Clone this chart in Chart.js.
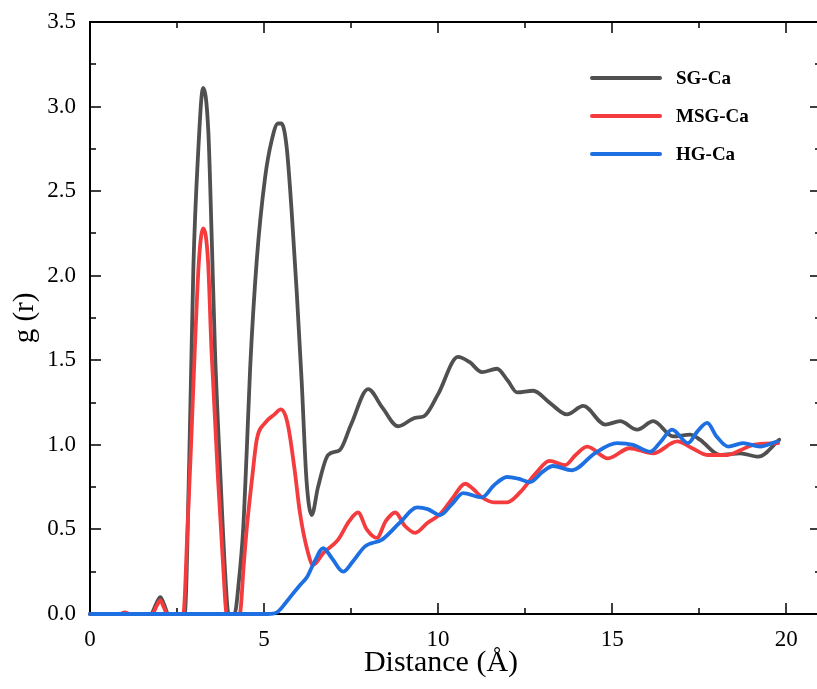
<!DOCTYPE html>
<html>
<head>
<meta charset="utf-8">
<script src="https://cdn.jsdelivr.net/npm/chart.js@4/dist/chart.umd.min.js"></script>
<style>
  html, body { margin: 0; padding: 0; overflow: hidden; background: #fff; }
  #wrap { position: relative; width: 817px; height: 689px; overflow: hidden; }
  #legend { position: absolute; left: 590px; top: 59px; font: bold 19px "Liberation Serif", "Times New Roman", serif; }
  #legend div { display: flex; align-items: center; height: 38px; }
  #legend span.ln { display: inline-block; width: 72px; height: 4px; border-radius: 2px; margin-right: 14px; }
</style>
</head>
<body>
<div id="wrap">
  <canvas id="rdf" width="832" height="689"></canvas>
  <div id="legend"></div>
</div>
<script>
// radial distribution functions, r in Å
const sgR = [0, 1.75, 1.9, 2.02, 2.12, 2.25, 2.72, 2.85, 2.97, 3.1, 3.25, 3.4, 3.5, 3.59, 3.75, 3.88, 3.98, 4.15, 4.28, 4.4, 4.5, 4.6, 4.79, 5.03, 5.22, 5.4, 5.5, 5.65, 5.79, 5.94, 6.08, 6.22, 6.37, 6.55, 6.84, 7.18, 7.5, 7.99, 8.4, 8.85, 9.34, 9.6, 10.0, 10.57, 10.9, 11.26, 11.69, 12.0, 12.27, 12.73, 13.2, 13.7, 14.17, 14.8, 15.23, 15.72, 16.18, 16.75, 17.24, 17.53, 18.1, 18.68, 19.2, 19.8];
const sgG = [0, 0, 0.06, 0.1, 0.06, 0, 0, 0.9, 2.05, 2.7, 3.11, 2.85, 2.2, 1.56, 0.8, 0.25, 0, 0, 0.2, 0.5, 0.95, 1.45, 2.09, 2.58, 2.8, 2.9, 2.9, 2.76, 2.39, 1.9, 1.38, 0.79, 0.585, 0.75, 0.94, 0.97, 1.12, 1.33, 1.22, 1.11, 1.16, 1.17, 1.3, 1.52, 1.49, 1.43, 1.45, 1.38, 1.31, 1.32, 1.25, 1.18, 1.23, 1.12, 1.14, 1.09, 1.14, 1.05, 1.06, 1.03, 0.94, 0.95, 0.93, 1.03];

const msgR = [0, 0.85, 1.0, 1.15, 1.78, 1.92, 2.02, 2.12, 2.22, 2.68, 2.8, 2.9, 3.01, 3.13, 3.25, 3.39, 3.49, 3.68, 3.82, 3.93, 4.3, 4.42, 4.5, 4.65, 4.79, 5.03, 5.3, 5.48, 5.62, 5.72, 5.88, 6.03, 6.24, 6.41, 6.7, 7.13, 7.45, 7.7, 7.95, 8.24, 8.5, 8.77, 9.05, 9.34, 9.7, 10.06, 10.4, 10.78, 11.0, 11.26, 11.6, 11.98, 12.36, 12.8, 13.2, 13.65, 13.95, 14.28, 14.88, 15.5, 16.18, 16.87, 17.3, 17.73, 18.3, 18.7, 19.05, 19.77];
const msgG = [0, 0, 0.01, 0, 0, 0.05, 0.08, 0.04, 0, 0, 0.5, 0.98, 1.56, 2.09, 2.28, 2.09, 1.56, 0.79, 0.3, 0, 0, 0.3, 0.5, 0.79, 1.03, 1.13, 1.18, 1.21, 1.17, 1.08, 0.85, 0.6, 0.38, 0.29, 0.36, 0.44, 0.55, 0.6, 0.5, 0.45, 0.55, 0.6, 0.52, 0.48, 0.54, 0.59, 0.68, 0.77, 0.74, 0.69, 0.66, 0.66, 0.72, 0.83, 0.905, 0.88, 0.94, 0.99, 0.92, 0.98, 0.95, 1.02, 0.98, 0.94, 0.94, 0.97, 1.0, 1.01];

const hgR = [0, 5.1, 5.37, 5.6, 5.75, 6.03, 6.24, 6.45, 6.7, 6.95, 7.27, 7.55, 7.9, 8.39, 8.9, 9.4, 9.7, 10.06, 10.4, 10.72, 11.26, 11.6, 11.98, 12.3, 12.64, 13.0, 13.3, 13.85, 14.5, 15.14, 15.6, 16.1, 16.4, 16.72, 17.18, 17.45, 17.73, 18.0, 18.33, 18.76, 19.25, 19.74];
const hgG = [0, 0, 0.01, 0.06, 0.1, 0.17, 0.22, 0.31, 0.39, 0.33, 0.25, 0.31, 0.4, 0.44, 0.54, 0.63, 0.62, 0.585, 0.65, 0.715, 0.69, 0.76, 0.81, 0.8, 0.78, 0.84, 0.875, 0.85, 0.95, 1.01, 1.0, 0.96, 1.02, 1.09, 1.01, 1.08, 1.13, 1.05, 0.99, 1.01, 0.99, 1.02];

const seriesNames = ['SG-Ca', 'MSG-Ca', 'HG-Ca'];
const seriesColors = ['#505050', '#f43c3f', '#1d6fe2'];

const xTicks = [0, 5, 10, 15, 20];
const yTicks = [0, 0.5, 1, 1.5, 2, 2.5, 3, 3.5];
const xMinorStep = 2.5;
const yMinorStep = 0.25;

const FONT = '"Liberation Serif", "Times New Roman", serif';

const pts = (xs, ys) => xs.map((v, i) => ({ x: v, y: ys[i] }));

// box frame with inward major/minor ticks on all four sides
const frameTicks = {
  id: 'frameTicks',
  beforeDatasetsDraw(chart) {
    const { ctx, chartArea: a, scales: { x, y } } = chart;
    ctx.save();
    ctx.strokeStyle = '#000';
    ctx.lineWidth = 1.5;
    ctx.beginPath();
    for (let v = 0; v <= x.max + 1e-9; v += xMinorStep) {
      const px = Math.round(x.getPixelForValue(v));
      const len = Math.abs(v % 5) < 1e-9 ? 11 : 6;
      ctx.moveTo(px, a.bottom); ctx.lineTo(px, a.bottom - len);
      ctx.moveTo(px, a.top); ctx.lineTo(px, a.top + len);
    }
    for (let v = 0; v <= y.max + 1e-9; v += yMinorStep) {
      const py = Math.round(y.getPixelForValue(v));
      const len = Math.abs((v * 2) % 1) < 1e-9 ? 11 : 6;
      ctx.moveTo(a.left, py); ctx.lineTo(a.left + len, py);
      ctx.moveTo(a.right, py); ctx.lineTo(a.right - len, py);
    }
    ctx.stroke();
    ctx.lineWidth = 2;
    ctx.strokeRect(a.left, a.top, a.right - a.left, a.bottom - a.top);
    ctx.restore();
  },
  afterDraw(chart) {
    const { ctx } = chart;
    ctx.save();
    ctx.fillStyle = '#000';
    ctx.font = '30px ' + FONT;
    ctx.textAlign = 'center';
    ctx.textBaseline = 'middle';
    ctx.fillText('Distance (Å)', 441, 663);
    ctx.restore();
  }
};

const chart = new Chart(document.getElementById('rdf'), {
  type: 'line',
  data: {
    datasets: [
      { label: seriesNames[0], data: pts(sgR, sgG), borderColor: seriesColors[0], order: 3 },
      { label: seriesNames[1], data: pts(msgR, msgG), borderColor: seriesColors[1], order: 2 },
      { label: seriesNames[2], data: pts(hgR, hgG), borderColor: seriesColors[2], order: 1 }
    ]
  },
  options: {
    responsive: false,
    animation: false,
    layout: { padding: { top: 22, right: 11, left: 0, bottom: 0 } },
    elements: {
      line: { borderWidth: 3.8, cubicInterpolationMode: 'monotone', borderCapStyle: 'round', borderJoinStyle: 'round' },
      point: { radius: 0 }
    },
    datasets: { line: { clip: false } },
    plugins: { legend: { display: false }, tooltip: { enabled: false } },
    scales: {
      x: {
        type: 'linear', min: 0, max: 21,
        grid: { display: false, drawTicks: false },
        border: { display: false },
        afterBuildTicks: s => { s.ticks = xTicks.map(v => ({ value: v })); },
        afterFit: s => { s.height = 75; s.paddingLeft = 0; s.paddingRight = 0; },
        ticks: { color: '#000', font: { family: FONT, size: 23 }, padding: 12, maxRotation: 0 }
      },
      y: {
        min: 0, max: 3.5,
        grid: { display: false, drawTicks: false },
        border: { display: false },
        afterBuildTicks: s => { s.ticks = yTicks.map(v => ({ value: v })); },
        afterFit: s => { s.width = 90; s.paddingTop = 0; s.paddingBottom = 0; },
        ticks: { color: '#000', font: { family: FONT, size: 23 }, padding: 14, callback: v => v.toFixed(1) },
        title: { display: true, text: 'g (r)', color: '#000', font: { family: FONT, size: 29 }, padding: { top: 8, bottom: 0 } }
      }
    }
  },
  plugins: [frameTicks]
});

// legend in series order
const legend = document.getElementById('legend');
chart.data.datasets.forEach(ds => {
  const row = document.createElement('div');
  const ln = document.createElement('span');
  ln.className = 'ln';
  ln.style.background = ds.borderColor;
  row.appendChild(ln);
  row.appendChild(document.createTextNode(ds.label));
  legend.appendChild(row);
});
</script>
</body>
</html>
